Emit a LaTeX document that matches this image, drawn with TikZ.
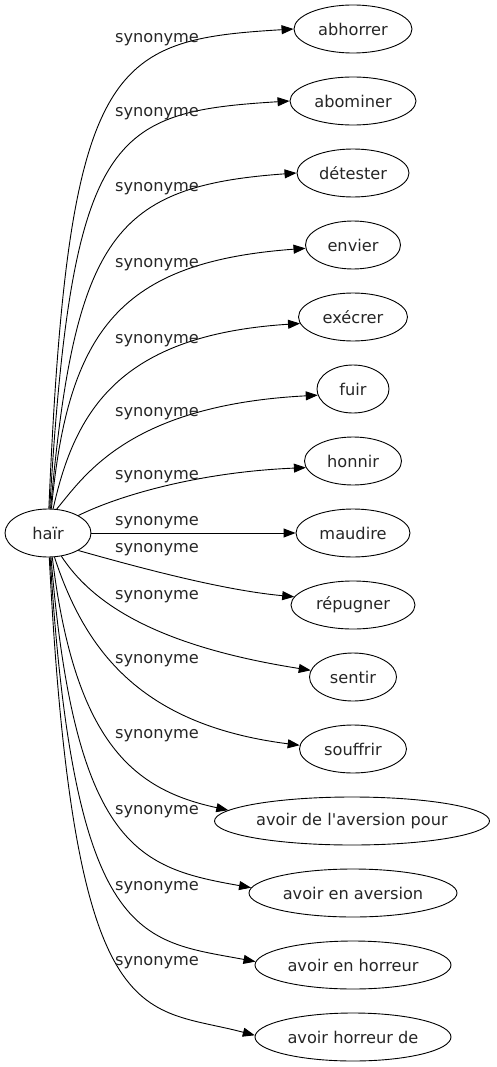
\documentclass[tikz,border=0pt]{standalone}
\usepackage{fontspec}
\setmainfont{DejaVu Sans}[Ligatures=TeXOff]
\usetikzlibrary{arrows.meta, shapes.geometric}
\tikzset{
  mot/.style={
    ellipse, draw=black, line width=0.9pt, inner sep=0pt,
    minimum height=48pt, text=black!85
  },
  lien/.style={
    -{Triangle[length=12pt,width=9pt]}, line width=0.9pt, color=black
  },
  etiquette/.style={
    text=black!85, inner sep=0pt
  }
}
\begin{document}
\begin{tikzpicture}[x=1pt, y=-1pt, every node/.style={font=\fontsize{16.2}{19}\selectfont}]
    \useasboundingbox (0,0) rectangle (497,1067);

    % Nodes
    \node[mot, minimum width=86pt] (hair) at (48,533) {haïr};
    \node[mot, minimum width=118pt] (abhorrer) at (353,29) {abhorrer};
    \node[mot, minimum width=126pt] (abominer) at (353,101) {abominer};
    \node[mot, minimum width=112pt] (detester) at (353,173) {détester};
    \node[mot, minimum width=95pt] (envier) at (353,245) {envier};
    \node[mot, minimum width=109pt] (execrer) at (353,317) {exécrer};
    \node[mot, minimum width=72pt] (fuir) at (353,389) {fuir};
    \node[mot, minimum width=97pt] (honnir) at (353,461) {honnir};
    \node[mot, minimum width=114pt] (maudire) at (353,533) {maudire};
    \node[mot, minimum width=124pt] (repugner) at (353,605) {répugner};
    \node[mot, minimum width=87pt] (sentir) at (353,677) {sentir};
    \node[mot, minimum width=107pt] (souffrir) at (353,749) {souffrir};
    \node[mot, minimum width=275pt] (aversionpour) at (352,821) {avoir de l'aversion pour};
    \node[mot, minimum width=208pt] (enaversion) at (353,893) {avoir en aversion};
    \node[mot, minimum width=196pt] (enhorreur) at (353,965) {avoir en horreur};
    \node[mot, minimum width=196pt] (horreurde) at (353,1037) {avoir horreur de};

    % Edges
    \draw[lien] (hair.88) .. controls (68,60) and (110,40) .. (abhorrer.west);
    \draw[lien] (hair.86) .. controls (72,132) and (112,112) .. (abominer.west);
    \draw[lien] (hair.84) .. controls (75,235) and (115,186) .. (detester.west);
    \draw[lien] (hair.82) .. controls (68,330) and (120,262) .. (envier.184);
    \draw[lien] (hair.78) .. controls (75,410) and (120,335) .. (execrer.187);
    \draw[lien] (hair.70) .. controls (85,475) and (130,405) .. (fuir.190);
    \draw[lien] (hair.30) .. controls (120,495) and (200,472) .. (honnir.188);
    \draw[lien] (hair.east) -- (maudire.west);
    \draw[lien] (hair.-30) .. controls (130,565) and (220,590) .. (repugner.172);
    \draw[lien] (hair.-60) .. controls (90,600) and (150,645) .. (sentir.171);
    \draw[lien] (hair.-75) .. controls (85,650) and (140,725) .. (souffrir.176);
    \draw[lien] (hair.-80) .. controls (75,745) and (135,790) .. (aversionpour.175);
    \draw[lien] (hair.-83) .. controls (75,850) and (140,868) .. (enaversion.177);
    \draw[lien] (hair.-85) .. controls (74,945) and (140,940) .. (enhorreur.178);
    \draw[lien] (hair.-87) .. controls (74,1040) and (140,1005) .. (horreurde.179);

    % Edge labels
    \node[etiquette] (lab1) at (157,40) {synonyme};
    \node[etiquette] (lab2) at (157,114) {synonyme};
    \node[etiquette] (lab3) at (157,189) {synonyme};
    \node[etiquette] (lab4) at (157,265) {synonyme};
    \node[etiquette] (lab5) at (157,341) {synonyme};
    \node[etiquette] (lab6) at (157,414) {synonyme};
    \node[etiquette] (lab7) at (157,477) {synonyme};
    \node[etiquette] (lab8) at (157,523) {synonyme};
    \node[etiquette] (lab9) at (157,550) {synonyme};
    \node[etiquette] (lab10) at (157,597) {synonyme};
    \node[etiquette] (lab11) at (157,661) {synonyme};
    \node[etiquette] (lab12) at (157,736) {synonyme};
    \node[etiquette] (lab13) at (157,812) {synonyme};
    \node[etiquette] (lab14) at (157,888) {synonyme};
    \node[etiquette] (lab15) at (157,963) {synonyme};

\end{tikzpicture}
\end{document}
